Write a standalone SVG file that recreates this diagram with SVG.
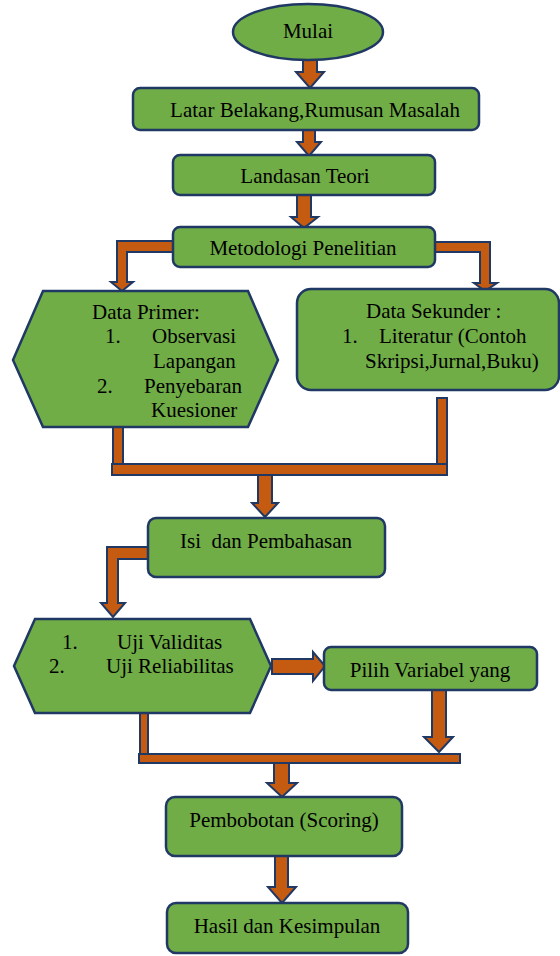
<svg xmlns="http://www.w3.org/2000/svg" width="560" height="956" viewBox="0 0 560 956">
<style>
.node{fill:#70AD47;stroke:#203864;stroke-width:2.5}
.arr{fill:#C55A11;stroke:#203864;stroke-width:2;stroke-linejoin:miter}
text{font-family:"Liberation Serif","Times New Roman",serif;font-size:21px;fill:#000;white-space:pre}
.c{text-anchor:middle}
</style>
<rect width="560" height="956" fill="#fff"/>
<g id="connectors">
<polygon class="arr" points="303,53 317,53 317,72 324,72 310,88 296,72 303,72"/>
<polygon class="arr" points="303,130 315,130 315,142 321,142 309,156 297,142 303,142"/>
<polygon class="arr" points="297,195 311,195 311,217 318,217 304,228 291,217 297,217"/>
<polygon class="arr" points="173,241 117,241 117,282 111,282 122,291 133,282 127,282 127,252 173,252"/>
<polygon class="arr" points="435,242 490,242 490,283 497,283 485,291 474,283 480,283 480,252 435,252"/>
<rect class="arr" x="113" y="423" width="10" height="41"/>
<rect class="arr" x="437" y="398" width="10" height="66"/>
<rect class="arr" x="112" y="464" width="335" height="11"/>
<polygon class="arr" points="258,475 272,475 272,503 278,503 265,517 252,503 258,503"/>
<polygon class="arr" points="148,547 107,547 107,603 101,603 113,617 125,603 118,603 118,559 148,559"/>
<polygon class="arr" points="272,659 313,659 313,652 325,666 313,681 313,674 272,674"/>
<polygon class="arr" points="432,690 446,690 446,737 453,737 439,752 424,737 432,737"/>
<rect class="arr" x="140" y="713" width="8" height="41"/>
<rect class="arr" x="139" y="754" width="321" height="9"/>
<polygon class="arr" points="274,763 289,763 289,783 297,783 282,797 267,783 274,783"/>
<polygon class="arr" points="275,856 288,856 288,887 296,887 282,903 268,887 275,887"/>
</g>
<g id="mulai">
<ellipse class="node" cx="308" cy="32" rx="75" ry="28"/>
<text class="c" x="308" y="38">Mulai</text>
</g>
<g id="latar">
<rect class="node" x="133" y="88" width="346" height="42" rx="7"/>
<text class="c" x="315" y="117">Latar Belakang,Rumusan Masalah</text>
</g>
<g id="landasan">
<rect class="node" x="173" y="155" width="262" height="40" rx="7"/>
<text class="c" x="305" y="183">Landasan Teori</text>
</g>
<g id="metodologi">
<rect class="node" x="173" y="227" width="262" height="40" rx="7"/>
<text class="c" x="303" y="255">Metodologi Penelitian</text>
</g>
<g id="data-primer">
<polygon class="node" points="13,360 43,291 248,291 278,360 248,427 43,427"/>
<text x="92" y="319">Data Primer:</text>
<text x="105" y="343">1.</text>
<text x="152" y="343">Observasi</text>
<text x="153" y="368">Lapangan</text>
<text x="97" y="393">2.</text>
<text x="144" y="393">Penyebaran</text>
<text x="151" y="417">Kuesioner</text>
</g>
<g id="data-sekunder">
<rect class="node" x="297" y="289" width="262" height="101" rx="14"/>
<text x="366" y="318">Data Sekunder :</text>
<text x="342" y="343">1.</text>
<text x="379" y="343">Literatur (Contoh</text>
<text x="365" y="368">Skripsi,Jurnal,Buku)</text>
</g>
<g id="isi">
<rect class="node" x="148" y="518" width="237" height="59" rx="8"/>
<text class="c" x="266" y="548">Isi  dan Pembahasan</text>
</g>
<g id="uji">
<polygon class="node" points="14,666 35,619 250,619 271,666 250,713 35,713"/>
<text x="62" y="649">1.</text>
<text x="117" y="649">Uji Validitas</text>
<text x="49" y="673">2.</text>
<text x="106" y="673">Uji Reliabilitas</text>
</g>
<g id="pilih">
<rect class="node" x="324" y="647" width="213" height="43" rx="7"/>
<text class="c" x="430" y="677">Pilih Variabel yang</text>
</g>
<g id="pembobotan">
<rect class="node" x="166" y="797" width="236" height="59" rx="9"/>
<text class="c" x="284" y="827">Pembobotan (Scoring)</text>
</g>
<g id="hasil">
<rect class="node" x="167" y="903" width="241" height="50" rx="9"/>
<text class="c" x="287" y="933">Hasil dan Kesimpulan</text>
</g>
</svg>
